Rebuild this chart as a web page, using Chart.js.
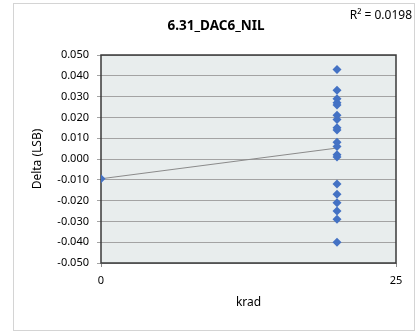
<!DOCTYPE html>
<html>
<head>
<meta charset="utf-8">
<script src="https://cdn.jsdelivr.net/npm/chart.js@4/dist/chart.umd.min.js"></script>
<style>
  html, body { margin: 0; padding: 0; background: #fff; }
  #wrap { width: 415px; height: 333px; }
</style>
</head>
<body>
<div id="wrap"><canvas id="nilChart" width="415" height="333"></canvas></div>
<script>
/* ================================
   DATA
================================ */
const chartTitle = "6.31_DAC6_NIL";
const rSquaredLabel = "R\u00B2 = 0.0198";

// dose levels (krad)
const doseZero = 0;
const doseHigh = 20;

// NIL delta (LSB)
const deltaAtZero = [-0.0095];
const deltaAtHigh = [
  0.043, 0.033, 0.029, 0.027, 0.026, 0.021, 0.019, 0.015, 0.014,
  0.008, 0.006, 0.002, 0.001,
  -0.012, -0.017, -0.021, -0.025, -0.029, -0.040
];

const xTicks = [0, 25];
const yMin = -0.05, yMax = 0.05, yStep = 0.01;

/* ================================
   POINTS + TRENDLINE
================================ */
const points = [
  ...deltaAtZero.map(v => ({ x: doseZero, y: v })),
  ...deltaAtHigh.map(v => ({ x: doseHigh, y: v }))
];

// least squares fit, drawn from 0 to 20 krad
const n = points.length;
const mx = points.reduce((s, p) => s + p.x, 0) / n;
const my = points.reduce((s, p) => s + p.y, 0) / n;
let sxy = 0, sxx = 0;
points.forEach(p => { sxy += (p.x - mx) * (p.y - my); sxx += (p.x - mx) ** 2; });
const slope = sxy / sxx;
const icpt = my - slope * mx;
const trend = [doseZero, doseHigh].map(x => ({ x, y: icpt + slope * x }));

/* ================================
   DECORATION PLUGIN
================================ */
const decor = {
  id: "decor",
  beforeDraw(chart) {
    const { ctx, chartArea: a } = chart;
    ctx.save();
    ctx.fillStyle = "#fff";
    ctx.fillRect(0, 0, chart.width, chart.height);
    ctx.strokeStyle = "#d4d4d4";
    ctx.lineWidth = 1;
    ctx.strokeRect(13.5, 3.5, 401, 327);
    ctx.fillStyle = "#e8eded";
    ctx.fillRect(a.left, a.top, a.right - a.left, a.bottom - a.top);
    ctx.restore();
  },
  beforeDatasetsDraw(chart) {
    const { ctx, chartArea: a } = chart;
    ctx.save();
    ctx.strokeStyle = "#3a3a3a";
    ctx.lineWidth = 1.5;
    ctx.strokeRect(a.left, a.top, a.right - a.left, a.bottom - a.top);
    ctx.restore();
  },
  afterDraw(chart) {
    const { ctx } = chart;
    ctx.save();
    ctx.fillStyle = "#000";
    ctx.textAlign = "center";
    ctx.textBaseline = "middle";
    ctx.font = "bold 13.5px 'Noto Sans'";
    ctx.fillText(chartTitle, 216, 26);
    ctx.textAlign = "right";
    ctx.font = "12px 'Noto Sans'";
    ctx.fillText(rSquaredLabel, 412, 16);
    ctx.restore();
  }
};

/* ================================
   CHART
================================ */
const axisFont = { family: "'Noto Sans'", size: 11 };

new Chart(document.getElementById("nilChart"), {
  type: "scatter",
  data: {
    datasets: [
      {
        label: "Delta",
        data: points,
        pointStyle: "rectRot",
        pointRadius: 4.5,
        pointHoverRadius: 4.5,
        backgroundColor: "#4472c4",
        borderColor: "#4472c4",
        borderWidth: 0,
        order: 1
      },
      {
        label: "Trend",
        type: "line",
        data: trend,
        borderColor: "#8a8a8a",
        borderWidth: 1,
        pointRadius: 0,
        fill: false,
        order: 2
      }
    ]
  },
  options: {
    responsive: false,
    animation: false,
    devicePixelRatio: 1,
    layout: { padding: { left: 30, right: 19, top: 55, bottom: 23 } },
    plugins: {
      legend: { display: false },
      tooltip: { enabled: false },
      title: { display: false }
    },
    scales: {
      x: {
        type: "linear",
        min: xTicks[0],
        max: xTicks[xTicks.length - 1],
        afterBuildTicks: s => { s.ticks = xTicks.map(v => ({ value: v })); },
        afterFit: s => { s.height = 47; },
        border: { display: false },
        grid: { drawOnChartArea: false, drawTicks: true, tickLength: 4, color: "#8c8c8c" },
        ticks: { color: "#000", font: axisFont, padding: 7, maxRotation: 0 },
        title: { display: true, text: "krad", color: "#000", font: { family: "'Noto Sans'", size: 12 }, padding: 0 }
      },
      y: {
        min: yMin,
        max: yMax,
        afterFit: s => { s.width = 71; },
        border: { display: false },
        grid: { color: "#a3a3a3", lineWidth: 1, tickLength: 4, drawTicks: true },
        ticks: {
          stepSize: yStep,
          autoSkip: false,
          color: "#000",
          font: axisFont,
          padding: 8,
          callback: v => Number(v).toFixed(3)
        },
        title: { display: true, text: "Delta (LSB)", color: "#000", font: { family: "'Noto Sans'", size: 12 }, padding: 0 }
      }
    }
  },
  plugins: [decor]
});
</script>
</body>
</html>
